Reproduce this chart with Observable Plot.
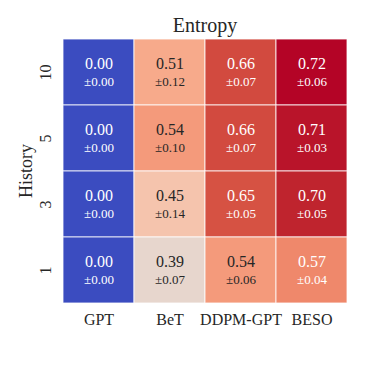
<!DOCTYPE html>
<html>
<head>
<meta charset="utf-8">
<script src="https://cdn.jsdelivr.net/npm/d3@7"></script>
<script src="https://cdn.jsdelivr.net/npm/@observablehq/plot@0.6"></script>
<style>
  html, body { margin: 0; padding: 0; background: white; }
</style>
</head>
<body>
<div id="chart"></div>
<script>
const methods = ["GPT", "BeT", "DDPM-GPT", "BESO"];
const history = ["10", "5", "3", "1"];
const means = [
  [0.00, 0.51, 0.66, 0.72],
  [0.00, 0.54, 0.66, 0.71],
  [0.00, 0.45, 0.65, 0.70],
  [0.00, 0.39, 0.54, 0.57]
];
const stds = [
  [0.00, 0.12, 0.07, 0.06],
  [0.00, 0.10, 0.07, 0.03],
  [0.00, 0.14, 0.05, 0.05],
  [0.00, 0.07, 0.06, 0.04]
];
const title = "Entropy";
const yLabel = "History";

// matplotlib "coolwarm" colormap stops
const coolwarm = [
  [59,76,192],[68,90,204],[77,104,215],[87,117,225],[98,130,234],[108,142,241],
  [119,154,247],[130,165,251],[141,176,254],[152,185,255],[163,194,255],[174,201,253],
  [184,208,249],[194,213,244],[204,217,238],[213,219,230],[221,221,221],[229,216,209],
  [236,211,197],[241,204,185],[245,196,173],[247,187,160],[247,177,148],[247,166,135],
  [244,154,123],[241,141,111],[236,127,99],[229,112,88],[222,96,77],[213,80,66],
  [203,62,56],[192,40,47],[180,4,38]
].map(([r,g,b]) => `rgb(${r},${g},${b})`);

const data = [];
history.forEach((h, i) => methods.forEach((m, j) => {
  data.push({history: h, method: m, mean: means[i][j], std: stds[i][j]});
}));

const colorOpts = {
  type: "linear",
  domain: [d3.min(data, d => d.mean), d3.max(data, d => d.mean)],
  interpolate: d3.piecewise(d3.interpolateRgb, coolwarm)
};
const cs = Plot.scale({color: colorOpts});

function luminance(c) {
  const col = d3.rgb(c);
  const f = v => { v /= 255; return v <= 0.03928 ? v / 12.92 : Math.pow((v + 0.055) / 1.055, 2.4); };
  return 0.2126 * f(col.r) + 0.7152 * f(col.g) + 0.0722 * f(col.b);
}
const isLight = d => luminance(cs.apply(d.mean)) > 0.408;

const chart = Plot.plot({
  width: 366,
  height: 366,
  marginLeft: 61,
  marginRight: 18,
  marginTop: 37,
  marginBottom: 62,
  style: {fontFamily: "'Liberation Serif', 'DejaVu Serif', serif", background: "white", color: "#262626"},
  x: {domain: methods, padding: 0, label: null},
  y: {domain: history, padding: 0, label: null},
  color: colorOpts,
  marks: [
    Plot.cell(data, {x: "method", y: "history", fill: "mean", stroke: "white", strokeWidth: 1, strokeOpacity: 0.8}),
    Plot.text(data, {filter: isLight, x: "method", y: "history", text: d => d.mean.toFixed(2), dy: -9, fontSize: 16, fill: "#262626"}),
    Plot.text(data, {filter: d => !isLight(d), x: "method", y: "history", text: d => d.mean.toFixed(2), dy: -9, fontSize: 16, fill: "white"}),
    Plot.text(data, {filter: isLight, x: "method", y: "history", text: d => "±" + d.std.toFixed(2), dy: 9, fontSize: 13, fill: "#262626"}),
    Plot.text(data, {filter: d => !isLight(d), x: "method", y: "history", text: d => "±" + d.std.toFixed(2), dy: 9, fontSize: 13, fill: "white"}),
    Plot.axisX({tickSize: 0, tickPadding: 9, fontSize: 16, label: null}),
    Plot.axisY({tickSize: 0, tickPadding: 11, fontSize: 16, tickRotate: -90, label: null}),
    Plot.text([title], {frameAnchor: "top", lineAnchor: "middle", textAnchor: "middle", dy: -12, fontSize: 20, fill: "#262626"}),
    Plot.text([yLabel], {frameAnchor: "left", lineAnchor: "middle", textAnchor: "middle", dx: -35, rotate: -90, fontSize: 18, fill: "#262626"})
  ]
});
document.getElementById("chart").appendChild(chart);
</script>
</body>
</html>
